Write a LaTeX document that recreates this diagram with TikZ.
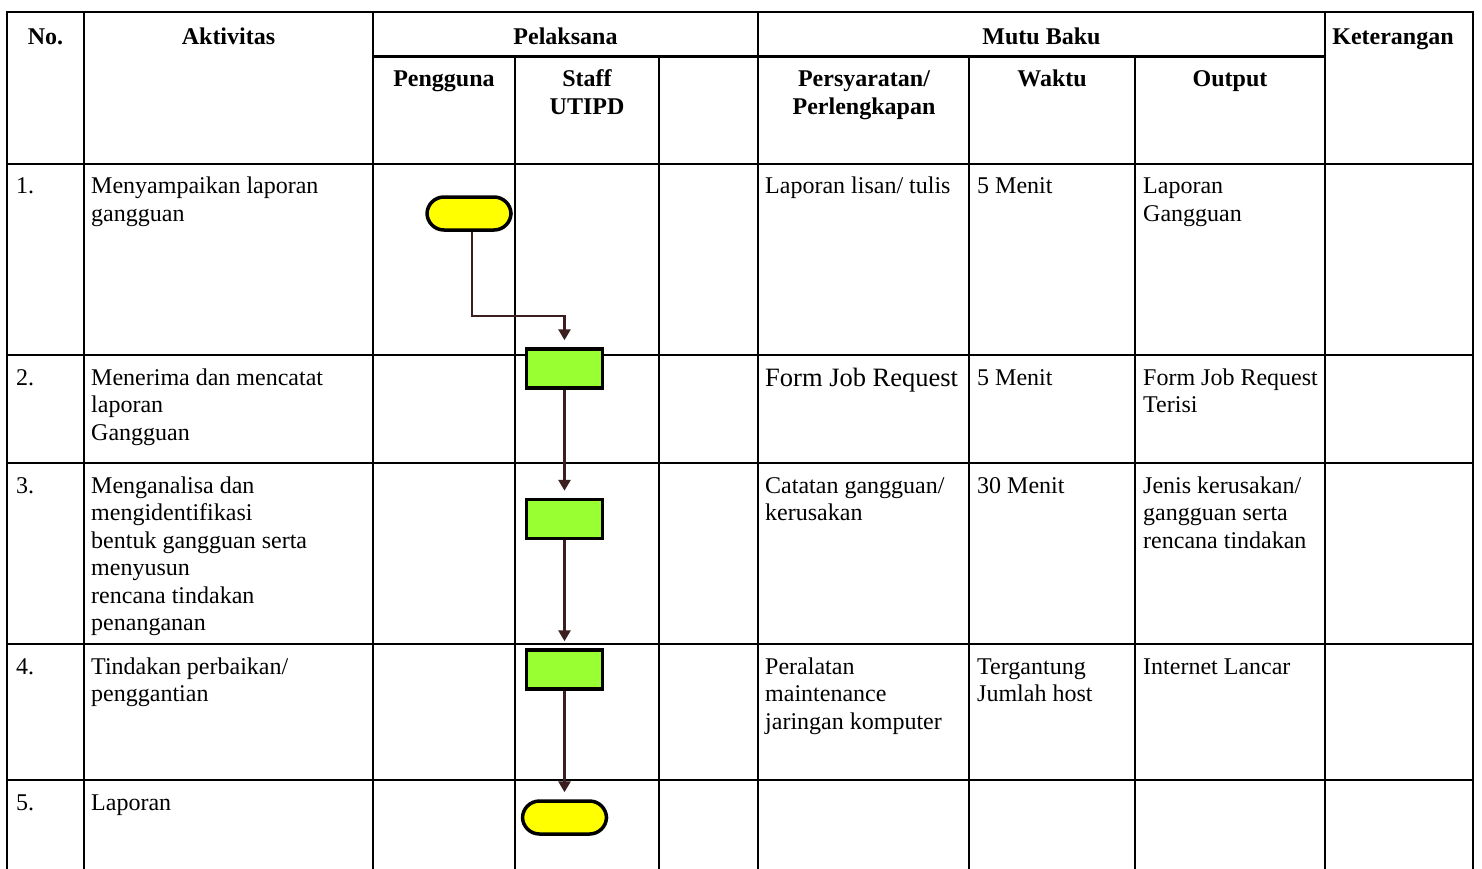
\documentclass[tikz,border=0pt]{standalone}
\usepackage{fontspec}
\setmainfont{Liberation Serif}
\usetikzlibrary{arrows.meta}
\definecolor{termfill}{HTML}{FFFF00}
\definecolor{procfill}{HTML}{99FF33}
\definecolor{flowline}{HTML}{3B1E1E}
\newcommand\bodysize{\fontsize{24}{27.5}\selectfont}
\newcommand\formsize{\fontsize{26.5}{30}\selectfont}
\newcommand\tstrut{\rule{0pt}{19.25pt}}

\begin{document}
\begin{tikzpicture}[x=1pt,y=-1pt,
  grid/.style={line width=2.2pt, line cap=rect},
  head/.style={anchor=north, inner sep=0pt, align=center, font=\bodysize\bfseries},
  cell/.style={anchor=north west, inner sep=0pt, align=left, font=\bodysize},
  terminal/.style={draw=black, line width=3.5pt, fill=termfill, rounded corners=17pt,
    minimum width=84pt, minimum height=33pt, inner sep=0pt},
  process/.style={draw=black, line width=3.5pt, fill=procfill,
    minimum width=76pt, minimum height=39pt, inner sep=0pt},
  flow/.style={draw=flowline, line width=2.8pt, -{Triangle[width=12pt,length=11pt]}, shorten >=7pt}
]
\useasboundingbox (0,0) rectangle (1482,868);
\fill[white] (0,0) rectangle (1482,868);

% table grid
\draw[grid] (7,12) -- (1473,12);
\draw[grid] (373,56.5) -- (1325,56.5);
\foreach \y in {164,355,463,644,780} \draw[grid] (7,\y) -- (1473,\y);
\foreach \x in {7,84,373,758,1325,1473} \draw[grid] (\x,12) -- (\x,868);
\foreach \x in {515,659,969,1135} \draw[grid] (\x,56.5) -- (\x,868);

% header
\node[head] (hno)  at (45.5,24.75)  {\tstrut No.};
\node[head] (hakt) at (228.5,24.75) {\tstrut Aktivitas};
\node[head] (hpel) at (565.5,24.75) {\tstrut Pelaksana};
\node[head] (hmut) at (1041.5,24.75) {\tstrut Mutu Baku};
\node[head] (hket) at (1393,24.75)  {\tstrut Keterangan};
\node[head] (hpen) at (444,67.25)   {\tstrut Pengguna};
\node[head] (hsta) at (587,67.25)   {\tstrut Staff\\UTIPD};
\node[head] (hper) at (864,67.25)   {\tstrut Persyaratan/\\Perlengkapan};
\node[head] (hwak) at (1052,67.25)  {\tstrut Waktu};
\node[head] (hout) at (1230,67.25)  {\tstrut Output};

% row 1
\node[cell] (n1) at (16,174.25)   {\tstrut 1.};
\node[cell] (a1) at (91,174.25)   {\tstrut Menyampaikan laporan\\gangguan};
\node[cell] (p1) at (765,174.25)  {\tstrut Laporan lisan/ tulis};
\node[cell] (w1) at (977,174.25)  {\tstrut 5 Menit};
\node[cell] (o1) at (1143,174.25) {\tstrut Laporan\\Gangguan};

% row 2
\node[cell] (n2) at (16,365.75)   {\tstrut 2.};
\node[cell] (a2) at (91,365.75)   {\tstrut Menerima dan mencatat\\laporan\\Gangguan};
\node[cell, font=\formsize] (p2) at (765,366.75) {\tstrut Form Job Request};
\node[cell] (w2) at (977,365.75)  {\tstrut 5 Menit};
\node[cell] (o2) at (1143,365.75) {\tstrut Form Job Request\\Terisi};

% row 3
\node[cell] (n3) at (16,473.75)   {\tstrut 3.};
\node[cell] (a3) at (91,473.75)   {\tstrut Menganalisa dan\\mengidentifikasi\\bentuk gangguan serta\\menyusun\\rencana tindakan\\penanganan};
\node[cell] (p3) at (765,473.75)  {\tstrut Catatan gangguan/\\kerusakan};
\node[cell] (w3) at (977,473.75)  {\tstrut 30 Menit};
\node[cell] (o3) at (1143,473.75) {\tstrut Jenis kerusakan/\\gangguan serta\\rencana tindakan};

% row 4
\node[cell] (n4) at (16,654.75)   {\tstrut 4.};
\node[cell] (a4) at (91,654.75)   {\tstrut Tindakan perbaikan/\\penggantian};
\node[cell] (p4) at (765,654.75)  {\tstrut Peralatan\\maintenance\\jaringan komputer};
\node[cell] (w4) at (977,654.75)  {\tstrut Tergantung\\Jumlah host};
\node[cell] (o4) at (1143,654.75) {\tstrut Internet Lancar};

% row 5
\node[cell] (n5) at (16,790.75)   {\tstrut 5.};
\node[cell] (a5) at (91,790.75)   {\tstrut Laporan};

% flow shapes
\node[terminal] (s1) at (469,213.5) {};
\node[process]  (b1) at (564.5,368.5) {};
\node[process]  (b2) at (564.5,519) {};
\node[process]  (b3) at (564.5,669.5) {};
\node[terminal] (s2) at (564.5,817.5) {};

% connectors
\coordinate (bend) at (472,316);
\draw[flow] (s1.south -| bend) -- (bend) -| (b1.north);
\draw[flow] (b1.south) -- (b2.north);
\draw[flow] (b2.south) -- (b3.north);
\draw[flow] (b3.south) -- (s2.north);
\end{tikzpicture}
\end{document}
